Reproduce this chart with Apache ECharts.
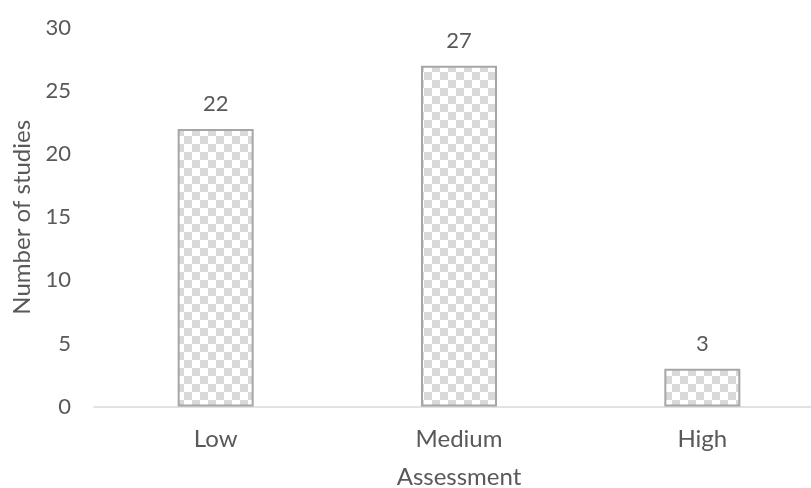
<!DOCTYPE html>
<html>
<head>
<meta charset="utf-8">
<script src="https://cdn.jsdelivr.net/npm/echarts@6/dist/echarts.min.js"></script>
<style>
  html, body { margin: 0; padding: 0; background: #ffffff; }
  #chart { width: 811px; height: 488px; }
</style>
</head>
<body>
<div id="chart"></div>
<script>
// Study counts per assessment level
var categories = ['Low', 'Medium', 'High'];
var studyCounts = [22, 27, 3];
var yTicks = [0, 5, 10, 15, 20, 25, 30];

// Checkerboard fill for the bars
function checkerPattern(cell, dark, light) {
  var c = document.createElement('canvas');
  c.width = cell * 2;
  c.height = cell * 2;
  var ctx = c.getContext('2d');
  ctx.fillStyle = light;
  ctx.fillRect(0, 0, cell * 2, cell * 2);
  ctx.fillStyle = dark;
  ctx.fillRect(0, 0, cell, cell);
  ctx.fillRect(cell, cell, cell, cell);
  return c;
}

var font = 'Lato, "Open Sans", sans-serif';
var textColor = '#595959';
var fontSize = 24;
var numberSize = 22;

var chart = echarts.init(document.getElementById('chart'), null, { renderer: 'canvas' });
chart.setOption({
  animation: false,
  grid: {
    left: 94, width: 730, top: 28, height: 378.5,
    containLabel: false,
    outerBoundsMode: 'none'
  },
  xAxis: {
    type: 'category',
    data: categories,
    name: 'Assessment',
    nameLocation: 'middle',
    nameGap: 59,
    nameTextStyle: { color: textColor, fontSize: fontSize, fontFamily: font },
    axisLine: { lineStyle: { color: '#d9d9d9', width: 1.5 } },
    axisTick: { show: false },
    axisLabel: { color: textColor, fontSize: fontSize, fontFamily: font, margin: 21 }
  },
  yAxis: {
    type: 'value',
    min: yTicks[0],
    max: yTicks[yTicks.length - 1],
    interval: 5,
    name: 'Number of studies',
    nameLocation: 'middle',
    nameGap: 60,
    nameTextStyle: { color: textColor, fontSize: fontSize, fontFamily: font },
    axisLine: { show: false },
    axisTick: { show: false },
    splitLine: { show: false },
    axisLabel: { color: textColor, fontSize: numberSize, fontFamily: font, margin: 23 }
  },
  series: [{
    type: 'bar',
    data: studyCounts,
    barWidth: 76,
    itemStyle: {
      color: { image: checkerPattern(8, '#d9d9d9', '#ffffff'), repeat: 'repeat' },
      borderColor: '#a6a6a6',
      borderWidth: 2
    },
    label: {
      show: true,
      position: 'top',
      distance: 14,
      color: textColor,
      fontSize: numberSize,
      fontFamily: font
    }
  }]
});
</script>
</body>
</html>
